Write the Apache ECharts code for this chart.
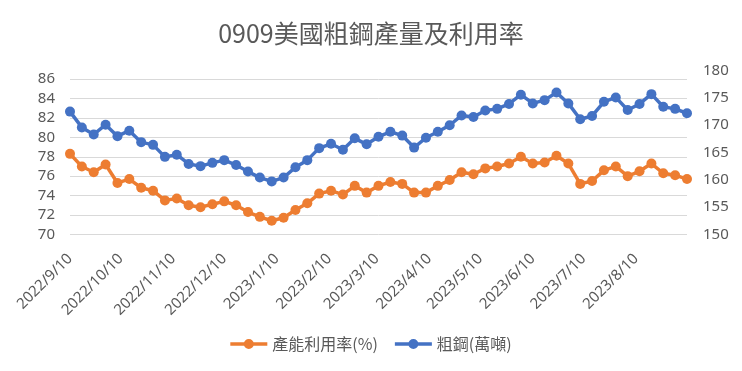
<!DOCTYPE html>
<html>
<head>
<meta charset="utf-8">
<script src="https://cdn.jsdelivr.net/npm/echarts@6/dist/echarts.min.js"></script>
<style>
  html, body { margin: 0; padding: 0; background: #fff; }
  #chart { width: 742px; height: 371px; }
</style>
</head>
<body>
<div id="chart"></div>
<script>
// Weekly dates (week ending)
const weeks = [
  '2022/9/10','2022/9/17','2022/9/24','2022/10/1','2022/10/8','2022/10/15','2022/10/22','2022/10/29',
  '2022/11/5','2022/11/12','2022/11/19','2022/11/26','2022/12/3','2022/12/10','2022/12/17','2022/12/24',
  '2022/12/31','2023/1/7','2023/1/14','2023/1/21','2023/1/28','2023/2/4','2023/2/11','2023/2/18',
  '2023/2/25','2023/3/4','2023/3/11','2023/3/18','2023/3/25','2023/4/1','2023/4/8','2023/4/15',
  '2023/4/22','2023/4/29','2023/5/6','2023/5/13','2023/5/20','2023/5/27','2023/6/3','2023/6/10',
  '2023/6/17','2023/6/24','2023/7/1','2023/7/8','2023/7/15','2023/7/22','2023/7/29','2023/8/5',
  '2023/8/12','2023/8/19','2023/8/26','2023/9/2','2023/9/9'
];
// 產能利用率(%)
const utilization = [
  78.3, 77.0, 76.4, 77.2, 75.3, 75.7, 74.8, 74.5,
  73.5, 73.7, 73.0, 72.8, 73.1, 73.4, 73.0, 72.3,
  71.8, 71.4, 71.7, 72.5, 73.2, 74.2, 74.5, 74.1,
  75.0, 74.3, 75.0, 75.4, 75.2, 74.3, 74.3, 75.0,
  75.6, 76.4, 76.2, 76.8, 77.0, 77.3, 78.0, 77.3,
  77.4, 78.1, 77.3, 75.2, 75.5, 76.6, 77.0, 76.0,
  76.5, 77.3, 76.3, 76.1, 75.7
];
// 粗鋼(萬噸)
const steel = [
  172.5, 169.6, 168.3, 170.1, 168.0, 169.0, 166.9, 166.4,
  164.2, 164.6, 162.9, 162.5, 163.1, 163.6, 162.7, 161.5,
  160.4, 159.7, 160.4, 162.3, 163.6, 165.8, 166.6, 165.5,
  167.6, 166.5, 167.9, 168.8, 168.1, 165.9, 167.7, 168.8,
  170.0, 171.8, 171.5, 172.7, 173.0, 173.9, 175.6, 174.0,
  174.6, 176.0, 174.0, 171.1, 171.7, 174.3, 175.1, 172.8,
  173.9, 175.7, 173.4, 173.0, 172.2
];
// X tick labels
const xTickLabels = [
  '2022/9/10','2022/10/10','2022/11/10','2022/12/10','2023/1/10','2023/2/10',
  '2023/3/10','2023/4/10','2023/5/10','2023/6/10','2023/7/10','2023/8/10'
];
const leftTicks = [70, 72, 74, 76, 78, 80, 82, 84, 86];
const rightTicks = [150, 155, 160, 165, 170, 175, 180];

function toTs(s) {
  const p = s.split('/').map(Number);
  return new Date(p[0], p[1] - 1, p[2]).getTime();
}
const tickTs = xTickLabels.map(toTs);
const weekTs = weeks.map(toTs);
function fmt(v) {
  const i = tickTs.indexOf(v);
  return i >= 0 ? xTickLabels[i] : '';
}

const chart = echarts.init(document.getElementById('chart'), null, { renderer: 'canvas' });
const fontNum = 'Noto Sans, Liberation Sans, sans-serif';
const fontCJK = 'Noto Sans CJK TC, Noto Sans, sans-serif';
const legendIcon = 'path://M0,3.8 L37,3.8 L37,7.2 L0,7.2 Z M13.5,5.5 A5,5 0 1 1 23.5,5.5 A5,5 0 1 1 13.5,5.5 Z';

chart.setOption({
  animation: false,
  backgroundColor: '#ffffff',
  title: {
    text: '0909美國粗鋼產量及利用率',
    left: 'center',
    top: 16,
    textStyle: { fontSize: 25, fontWeight: 'normal', color: '#595959', fontFamily: fontCJK }
  },
  legend: {
    bottom: 14,
    left: 'center',
    itemWidth: 37,
    itemHeight: 11,
    itemGap: 17,
    textStyle: { fontSize: 16, color: '#595959', fontFamily: fontCJK },
    data: [
      { name: '產能利用率(%)', icon: legendIcon },
      { name: '粗鋼(萬噸)', icon: legendIcon }
    ]
  },
  grid: { left: 70, right: 55, top: 70.7, bottom: 136.7, containLabel: false },
  xAxis: {
    type: 'value',
    min: weekTs[0],
    max: weekTs[weekTs.length - 1],
    axisLine: { show: false },
    axisTick: { show: false },
    splitLine: { show: false },
    axisLabel: {
      customValues: tickTs,
      rotate: 45,
      margin: 22,
      fontSize: 15,
      color: '#595959',
      fontFamily: fontNum,
      formatter: function (v) { return fmt(v); }
    }
  },
  yAxis: [
    {
      type: 'value',
      min: leftTicks[0],
      max: 86.88,
      interval: 2,
      axisLine: { show: false },
      axisTick: { show: false },
      axisLabel: {
        margin: 15,
        fontSize: 15,
        color: '#595959',
        fontFamily: fontNum,
        showMaxLabel: false,
        formatter: function (v) { return leftTicks.indexOf(v) >= 0 ? String(v) : ''; }
      },
      splitLine: { show: true, showMaxLine: false, lineStyle: { color: '#d9d9d9', width: 1 } }
    },
    {
      type: 'value',
      min: rightTicks[0],
      max: rightTicks[rightTicks.length - 1],
      interval: 5,
      axisLine: { show: false },
      axisTick: { show: false },
      splitLine: { show: false },
      axisLabel: {
        margin: 16,
        fontSize: 15,
        color: '#595959',
        fontFamily: fontNum
      }
    }
  ],
  series: [
    {
      name: '產能利用率(%)',
      type: 'line',
      yAxisIndex: 0,
      data: weekTs.map((t, i) => [t, utilization[i]]),
      symbol: 'circle',
      symbolSize: 10,
      lineStyle: { color: '#ED7D31', width: 3.5 },
      itemStyle: { color: '#ED7D31' }
    },
    {
      name: '粗鋼(萬噸)',
      type: 'line',
      yAxisIndex: 1,
      data: weekTs.map((t, i) => [t, steel[i]]),
      symbol: 'circle',
      symbolSize: 10,
      lineStyle: { color: '#4472C4', width: 3.5 },
      itemStyle: { color: '#4472C4' }
    }
  ]
});
</script>
</body>
</html>
